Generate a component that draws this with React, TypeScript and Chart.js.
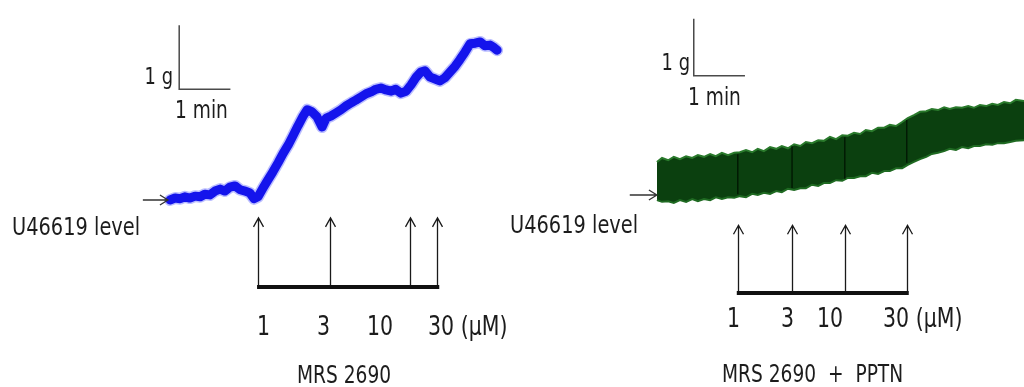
import { useEffect, useRef } from "react";
import { Chart, registerables } from "chart.js";
Chart.register(...registerables);

// ---- Data (time in minutes, tension in g above U46619 level) ----
const leftTime = [3.32,3.42,3.52,3.61,3.71,3.81,3.91,4.00,4.10,4.20,4.30,4.39,4.49,4.59,4.69,4.79,4.88,4.96,5.04,5.14,5.23,5.33,5.43,5.53,5.63,5.72,5.82,5.92,6.00,6.09,6.19,6.29,6.37,6.46,6.56,6.66,6.76,6.86,6.95,7.05,7.15,7.25,7.34,7.44,7.54,7.64,7.73,7.83,7.93,8.03,8.13,8.22,8.30,8.40,8.50,8.59,8.69,8.79,8.89,8.98,9.08,9.18,9.28,9.38,9.47,9.57,9.65,9.71];
const leftTension = [0.00,0.03,0.02,0.05,0.03,0.06,0.05,0.09,0.08,0.14,0.17,0.14,0.20,0.22,0.16,0.14,0.11,0.02,0.05,0.19,0.31,0.44,0.58,0.73,0.86,1.00,1.16,1.31,1.41,1.38,1.30,1.14,1.28,1.31,1.36,1.41,1.47,1.52,1.56,1.61,1.66,1.69,1.73,1.75,1.72,1.70,1.73,1.67,1.70,1.80,1.92,2.00,2.02,1.92,1.89,1.86,1.91,2.00,2.09,2.19,2.31,2.44,2.45,2.47,2.41,2.42,2.38,2.34];
const leftDoseTimes = [5.04, 6.45, 8.01, 8.54];

const rightTime = [2.83,2.93,3.05,3.16,3.28,3.40,3.52,3.63,3.75,3.87,3.98,4.10,4.22,4.34,4.45,4.57,4.69,4.80,4.92,5.04,5.16,5.27,5.39,5.51,5.63,5.74,5.86,5.98,6.09,6.21,6.33,6.45,6.56,6.68,6.80,6.91,7.03,7.15,7.27,7.38,7.50,7.62,7.73,7.85,7.97,8.09,8.20,8.32,8.44,8.55,8.67,8.79,8.91,9.02,9.14,9.26,9.38,9.49,9.61,9.73,9.84,10.00];
const rightUpper = [0.58,0.65,0.61,0.67,0.63,0.68,0.65,0.70,0.67,0.72,0.68,0.74,0.70,0.74,0.75,0.79,0.75,0.81,0.77,0.84,0.81,0.86,0.82,0.89,0.86,0.93,0.91,0.96,0.95,1.02,0.98,1.05,1.04,1.09,1.07,1.14,1.12,1.18,1.18,1.23,1.21,1.28,1.35,1.40,1.46,1.47,1.51,1.49,1.54,1.51,1.54,1.53,1.56,1.53,1.58,1.56,1.60,1.58,1.63,1.61,1.67,1.65];
const rightLower = [-0.09,-0.12,-0.11,-0.14,-0.09,-0.12,-0.07,-0.11,-0.07,-0.09,-0.04,-0.07,-0.04,-0.05,-0.02,-0.04,0.02,0.00,0.04,0.02,0.07,0.05,0.11,0.09,0.12,0.12,0.18,0.16,0.21,0.21,0.26,0.25,0.30,0.30,0.33,0.33,0.39,0.37,0.42,0.42,0.47,0.47,0.53,0.58,0.63,0.67,0.72,0.74,0.77,0.81,0.79,0.84,0.82,0.86,0.86,0.89,0.88,0.91,0.91,0.93,0.95,0.96];
const rightDoseTimes = [4.41, 5.47, 6.50, 7.71];

const doseLabels = ["1", "3", "10", "30 (µM)"];
const levelLabel = "U46619 level";
const gLabel = "1 g";
const minLabel = "1 min";
const leftTitle = "MRS 2690";
const rightTitle = "MRS 2690  +  PPTN";

const FONT = '"DejaVu Sans", Verdana, sans-serif';
const SX = 0.76;

function drawText(ctx: CanvasRenderingContext2D, s: string, x: number, y: number, size: number, align: CanvasTextAlign = "left") {
  ctx.save();
  ctx.font = `${size}px ${FONT}`;
  ctx.fillStyle = "#1c1c1c";
  ctx.textAlign = align;
  ctx.textBaseline = "alphabetic";
  ctx.translate(x, y);
  ctx.scale(SX, 1);
  ctx.fillText(s, 0, 0);
  ctx.restore();
}

const annotPlugin = {
  id: "traceAnnot",
  afterDatasetsDraw(chart: any, _args: any, opts: any) {
    const ctx: CanvasRenderingContext2D = chart.ctx;
    const xs = chart.scales.x;
    const ys = chart.scales.y;
    const px = (t: number) => xs.getPixelForValue(t);
    const py = (g: number) => ys.getPixelForValue(g);
    ctx.save();

    // dose artifacts inside band
    if (opts.markers) {
      const up = chart.data.datasets[1].data;
      const lo = chart.data.datasets[0].data;
      ctx.strokeStyle = "#021a04";
      ctx.lineWidth = 1.5;
      for (const t of opts.doses) {
        let best = 0;
        for (let i = 0; i < up.length; i++) if (Math.abs(up[i].x - t) < Math.abs(up[best].x - t)) best = i;
        ctx.beginPath();
        ctx.moveTo(px(t), py(up[best].y) + 2);
        ctx.lineTo(px(t), py(lo[best].y) - 2);
        ctx.stroke();
      }
    }

    // scale bar (1 g vertical, 1 min horizontal)
    const sb = opts.scaleBar;
    ctx.strokeStyle = "#4a4a4a";
    ctx.lineWidth = 1.5;
    ctx.beginPath();
    ctx.moveTo(px(sb.t), py(sb.g + 1));
    ctx.lineTo(px(sb.t), py(sb.g));
    ctx.lineTo(px(sb.t + 1), py(sb.g));
    ctx.stroke();

    // baseline arrow
    const ba = opts.baseArrow;
    ctx.strokeStyle = "#333";
    ctx.lineWidth = 1.3;
    const bx0 = px(ba.t0), bx1 = px(ba.t1), by = py(0);
    ctx.beginPath();
    ctx.moveTo(bx0, by);
    ctx.lineTo(bx1, by);
    ctx.moveTo(bx1 - 8, by - 5);
    ctx.lineTo(bx1, by);
    ctx.lineTo(bx1 - 8, by + 5);
    ctx.stroke();

    // dose arrows and bar
    const tipY = py(opts.tipG);
    const barY = py(opts.barG);
    ctx.strokeStyle = "#1a1a1a";
    ctx.lineWidth = 1.3;
    for (const t of opts.doses) {
      const x = Math.round(px(t)) + 0.5;
      ctx.beginPath();
      ctx.moveTo(x, barY);
      ctx.lineTo(x, tipY);
      ctx.moveTo(x - 5, tipY + 9);
      ctx.lineTo(x, tipY);
      ctx.lineTo(x + 5, tipY + 9);
      ctx.stroke();
    }
    ctx.lineWidth = 4;
    ctx.strokeStyle = "#111";
    ctx.beginPath();
    ctx.moveTo(px(opts.doses[0]) - 1, barY);
    ctx.lineTo(px(opts.doses[opts.doses.length - 1]) + 2, barY);
    ctx.stroke();

    for (const tx of opts.texts) drawText(ctx, tx.s, tx.x, tx.y, tx.size, tx.align || "left");
    ctx.restore();
  },
};

function makeTexts(cfg: any) {
  const out: any[] = [];
  out.push({ s: levelLabel, x: cfg.level[0], y: cfg.level[1], size: 25.5 });
  out.push({ s: gLabel, x: cfg.g[0], y: cfg.g[1], size: 23.5, align: "right" });
  out.push({ s: minLabel, x: cfg.min[0], y: cfg.min[1], size: 24.5 });
  doseLabels.forEach((s, i) => out.push({ s, x: cfg.dose[i], y: cfg.doseY, size: 27 }));
  out.push({ s: cfg.title, x: cfg.titlePos[0], y: cfg.titlePos[1], size: cfg.titleSize });
  return out;
}

function TraceChart(props: { left: number; width: number; kind: "left" | "right" }) {
  const ref = useRef<HTMLCanvasElement | null>(null);
  useEffect(() => {
    if (!ref.current) return;
    const isLeft = props.kind === "left";
    const leftPts = leftTime.map((t, i) => ({ x: t, y: leftTension[i] }));
    const datasets: any[] = isLeft
      ? [
          {
            data: leftPts,
            borderColor: "#1414ec",
            borderWidth: 9,
            borderJoinStyle: "round",
            borderCapStyle: "round",
            pointRadius: 0,
            tension: 0,
            fill: false,
          },
          {
            data: leftPts,
            borderColor: "rgba(60,70,255,0.35)",
            borderWidth: 12,
            borderJoinStyle: "round",
            borderCapStyle: "round",
            pointRadius: 0,
            tension: 0,
            fill: false,
          },
        ]
      : [
          {
            data: rightTime.map((t, i) => ({ x: t, y: rightLower[i] })),
            borderColor: "#1f6a22",
            borderWidth: 2,
            pointRadius: 0,
            tension: 0,
            fill: false,
          },
          {
            data: rightTime.map((t, i) => ({ x: t, y: rightUpper[i] })),
            borderColor: "#2a7a2c",
            borderWidth: 2,
            backgroundColor: "#0b400f",
            pointRadius: 0,
            tension: 0,
            fill: "-1",
          },
        ];
    const annot = isLeft
      ? {
          markers: false,
          doses: leftDoseTimes,
          tipG: -0.28,
          barG: -1.36,
          scaleBar: { t: 3.5, g: 1.73 },
          baseArrow: { t0: 2.79, t1: 3.28 },
          texts: makeTexts({
            level: [12, 235],
            g: [173, 84],
            min: [175, 118],
            dose: [257, 317, 367, 428],
            doseY: 335,
            title: leftTitle,
            titlePos: [297, 383],
            titleSize: 24.5,
          }),
        }
      : {
          markers: true,
          doses: rightDoseTimes,
          tipG: -0.53,
          barG: -1.72,
          scaleBar: { t: 3.55, g: 2.09 },
          baseArrow: { t0: 2.30, t1: 2.83 },
          texts: makeTexts({
            level: [10, 233],
            g: [190, 70],
            min: [188, 105],
            dose: [227, 281, 317, 383],
            doseY: 327,
            title: rightTitle,
            titlePos: [222, 382],
            titleSize: 24.5,
          }),
        };
    const chart = new Chart(ref.current, {
      type: "line",
      data: { datasets },
      options: {
        animation: false,
        responsive: false,
        devicePixelRatio: 1,
        layout: { padding: 0 },
        scales: {
          x: isLeft
            ? { type: "linear", min: 0, max: 520 / 51.2, display: false }
            : { type: "linear", min: -12 / 51.2, max: 10, display: false },
          y: isLeft
            ? { type: "linear", min: -2.922, max: 3.125, display: false }
            : { type: "linear", min: -3.368, max: 3.421, display: false },
        },
        plugins: {
          legend: { display: false },
          tooltip: { enabled: false },
          traceAnnot: annot,
        } as any,
      },
      plugins: [annotPlugin],
    } as any);
    return () => chart.destroy();
  }, [props.kind]);
  return (
    <canvas
      ref={ref}
      width={props.width}
      height={387}
      style={{ position: "absolute", left: props.left, top: 0, width: props.width, height: 387 }}
    />
  );
}

export default function App() {
  return (
    <div style={{ position: "fixed", left: 0, top: 0, width: 1024, height: 387, background: "#fff", overflow: "hidden" }}>
      <TraceChart left={0} width={520} kind="left" />
      <TraceChart left={500} width={524} kind="right" />
    </div>
  );
}
